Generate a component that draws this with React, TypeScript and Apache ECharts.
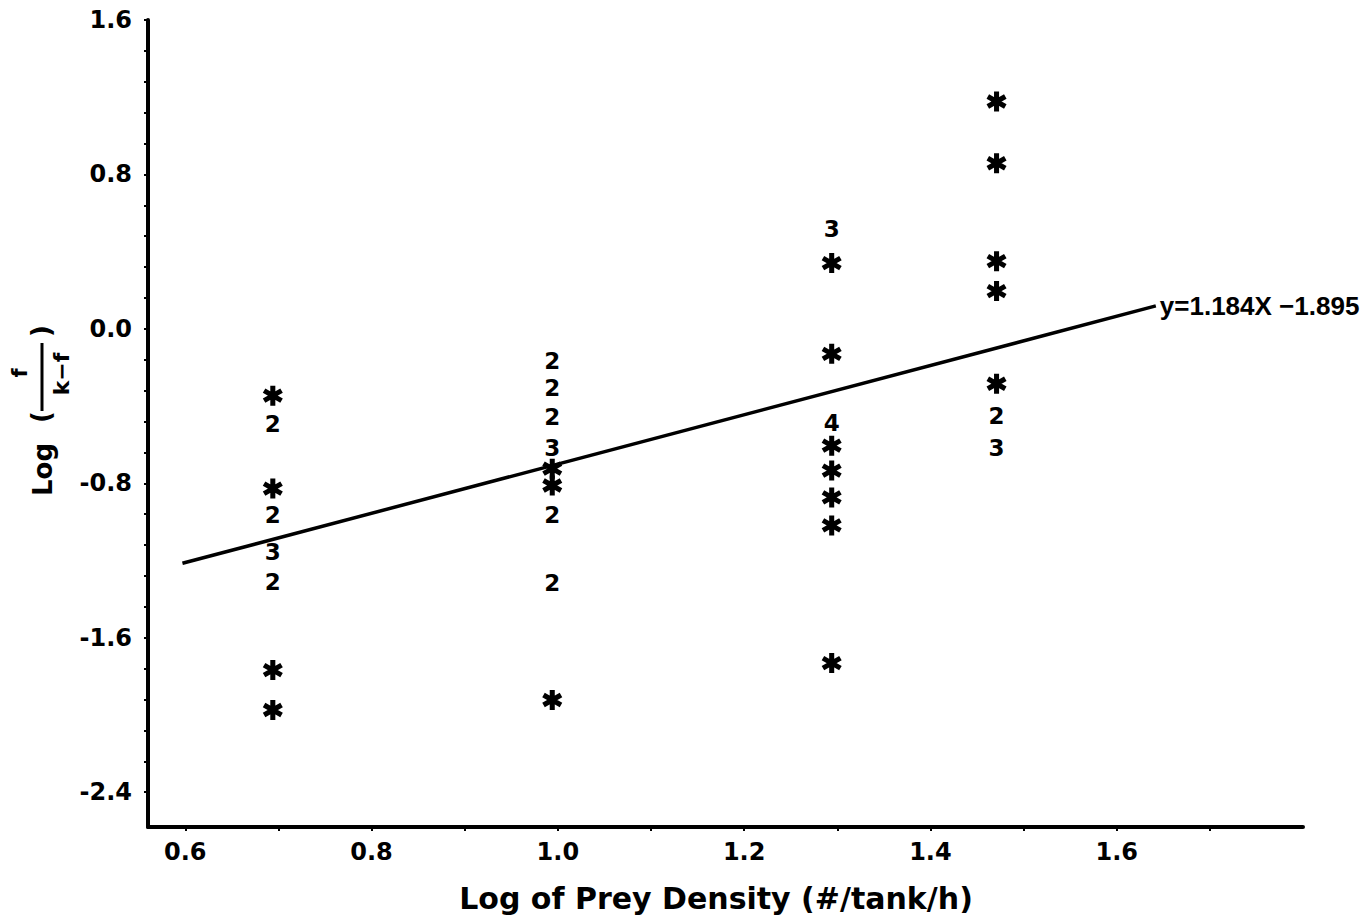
import React, { useEffect, useRef } from "react";
import * as echarts from "echarts";

// ---- data ----
const xTickLabels = [0.6, 0.8, 1.0, 1.2, 1.4, 1.6];
const xTicks = [0.6, 0.7, 0.8, 0.9, 1.0, 1.1, 1.2, 1.3, 1.4, 1.5, 1.6, 1.7];
const yTickLabels = [1.6, 0.8, 0.0, -0.8, -1.6, -2.4];
const yTicks = [
  1.6, 1.44, 1.28, 1.12, 0.96, 0.8, 0.64, 0.48, 0.32, 0.16, 0, -0.16, -0.32,
  -0.48, -0.64, -0.8, -0.96, -1.12, -1.28, -1.44, -1.6, -1.76, -1.92, -2.08,
  -2.24, -2.4,
];

// single observations (plotted as asterisks)
const asteriskPoints: [number, number][] = [
  [0.694, -0.346], [0.694, -0.827], [0.694, -1.767], [0.694, -1.974],
  [0.994, -0.724], [0.994, -0.811], [0.994, -1.922],
  [1.294, 0.341], [1.294, -0.129], [1.294, -0.605], [1.294, -0.734],
  [1.294, -0.873], [1.294, -1.018], [1.294, -1.731],
  [1.471, 1.178], [1.471, 0.858], [1.471, 0.351], [1.471, 0.196], [1.471, -0.284],
];

// coincident observations (plotted as their count)
const countPoints: [number, number, number][] = [
  [0.694, -0.49, 2], [0.694, -0.966, 2], [0.694, -1.158, 3], [0.694, -1.313, 2],
  [0.994, -0.165, 2], [0.994, -0.305, 2], [0.994, -0.455, 2], [0.994, -0.615, 3],
  [0.994, -0.966, 2], [0.994, -1.318, 2],
  [1.294, 0.517, 3], [1.294, -0.486, 4],
  [1.471, -0.45, 2], [1.471, -0.615, 3],
];

const fitLine: [number, number][] = [[0.597, -1.214], [1.642, 0.119]];
const fitLabel = "y=1.184X \u22121.895";
const xTitle = "Log of Prey Density (#/tank/h)";

const FONT = '"DejaVu Sans", sans-serif';
const ASTERISK =
  "path://M38 2L62 2L62 98L38 98Z M14.43 15.61L97.57 63.61L85.57 84.39L2.43 36.39Z M2.43 63.61L85.57 15.61L97.57 36.39L14.43 84.39Z";

export default function App() {
  const ref = useRef<HTMLDivElement>(null);
  useEffect(() => {
    document.body.style.margin = "0";
    const chart = echarts.init(ref.current!, null, { renderer: "svg" });
    chart.setOption({
      animation: false,
      backgroundColor: "#ffffff",
      grid: { left: 148, right: 68, top: 20, bottom: 94, containLabel: false },
      xAxis: {
        type: "value",
        min: 0.56,
        max: 1.8,
        splitLine: { show: false },
        axisLine: { show: true, onZero: false, lineStyle: { color: "#000", width: 4 } },
        axisTick: {
          show: true,
          customValues: xTicks,
          length: 4,
          lineStyle: { color: "#000", width: 2 },
        },
        axisLabel: {
          customValues: xTickLabels,
          formatter: (v: number) => v.toFixed(1),
          color: "#000",
          fontFamily: FONT,
          fontWeight: "bold",
          fontSize: 24,
          margin: 13,
        },
      },
      yAxis: {
        type: "value",
        min: -2.58,
        max: 1.6,
        splitLine: { show: false },
        axisLine: { show: true, onZero: false, lineStyle: { color: "#000", width: 4 } },
        axisTick: {
          show: true,
          customValues: yTicks,
          length: 4,
          lineStyle: { color: "#000", width: 2 },
        },
        axisLabel: {
          customValues: yTickLabels,
          formatter: (v: number) => (Math.abs(v) < 1e-9 ? "0.0" : v.toFixed(1)),
          color: "#000",
          fontFamily: FONT,
          fontWeight: "bold",
          fontSize: 24,
          margin: 16,
        },
      },
      series: [
        {
          type: "line",
          data: fitLine,
          showSymbol: false,
          symbol: "none",
          lineStyle: { color: "#000", width: 3.5 },
          endLabel: {
            show: true,
            formatter: () => fitLabel,
            color: "#000",
            fontFamily: '"Liberation Sans", Arial, sans-serif',
            fontWeight: "bold",
            fontSize: 26,
            distance: 4,
          },
          z: 3,
        },
        {
          type: "scatter",
          data: asteriskPoints,
          symbol: ASTERISK,
          symbolSize: [20, 20],
          itemStyle: { color: "#000", opacity: 1 },
          z: 4,
        },
        {
          type: "scatter",
          data: countPoints,
          encode: { x: 0, y: 1 },
          symbol: "circle",
          symbolSize: 1,
          itemStyle: { color: "rgba(0,0,0,0)", opacity: 1 },
          label: {
            show: true,
            position: "inside",
            formatter: (p: any) => String(p.value[2]),
            color: "#000",
            opacity: 1,
            fontFamily: FONT,
            fontWeight: "bold",
            fontSize: 23,
          },
          z: 4,
        },
      ],
      graphic: [
        {
          type: "text",
          x: 716,
          y: 898,
          style: {
            text: xTitle,
            align: "center",
            verticalAlign: "middle",
            fill: "#000",
            font: `bold 30px ${FONT}`,
          },
        },
        {
          type: "group",
          x: 43,
          y: 496,
          rotation: Math.PI / 2,
          children: [
            {
              type: "text",
              x: 0,
              y: 0,
              style: {
                text: "Log",
                align: "left",
                verticalAlign: "middle",
                fill: "#000",
                font: `bold 26px ${FONT}`,
              },
            },
            {
              type: "text",
              x: 79,
              y: -2,
              style: {
                text: "(",
                align: "center",
                verticalAlign: "middle",
                fill: "#000",
                font: `bold 26px ${FONT}`,
              },
            },
            {
              type: "line",
              shape: { x1: 85, y1: -1, x2: 153, y2: -1 },
              style: { stroke: "#000", lineWidth: 3 },
            },
            {
              type: "text",
              x: 123,
              y: -23,
              style: {
                text: "f",
                align: "center",
                verticalAlign: "middle",
                fill: "#000",
                font: `bold 21px ${FONT}`,
              },
            },
            {
              type: "text",
              x: 122,
              y: 18,
              style: {
                text: "k\u2212f",
                align: "center",
                verticalAlign: "middle",
                fill: "#000",
                font: `bold 22px ${FONT}`,
              },
            },
            {
              type: "text",
              x: 165,
              y: -2,
              style: {
                text: ")",
                align: "center",
                verticalAlign: "middle",
                fill: "#000",
                font: `bold 26px ${FONT}`,
              },
            },
          ],
        },
      ],
    });
    return () => chart.dispose();
  }, []);
  return <div ref={ref} style={{ width: 1371, height: 921 }} />;
}
